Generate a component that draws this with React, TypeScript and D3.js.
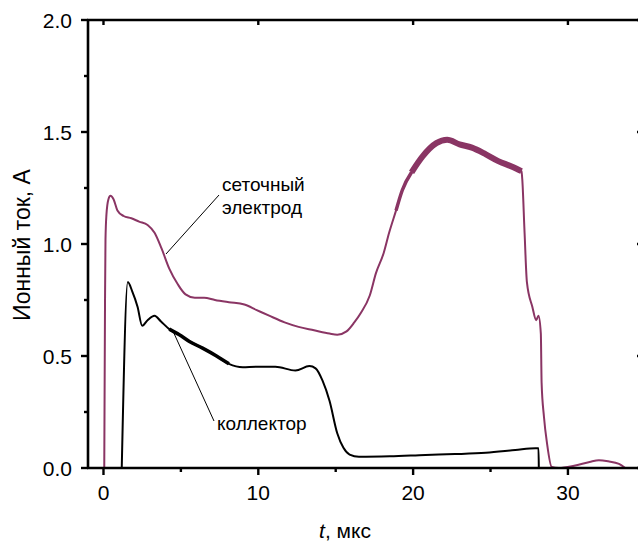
import React from "react";
import * as d3 from "d3";

const W = 638;
const H = 546;

// grid electrode (сеточный электрод)
const gridT = [0.05, 0.1, 0.13, 0.19, 0.32, 0.45, 0.65, 0.9, 1.3, 1.8, 2.3, 2.85, 3.3, 3.75, 4.25, 4.8, 5.3, 5.9, 6.5, 7.2, 8.1, 9.1, 9.9, 10.7, 11.7, 12.6, 13.6, 14.6, 15.1, 15.7, 16.2, 16.6, 17.2, 17.6, 18.1, 18.45, 18.9, 19.3, 19.9, 20.6, 21.5, 22.2, 23.0, 23.8, 24.7, 25.5, 26.4, 27.0, 27.05, 27.2, 27.35, 27.7, 27.95, 28.1, 28.25, 28.3, 28.45, 28.65, 28.95, 29.4, 30.4, 31.4, 32.0, 32.6, 33.3, 33.7];
const gridI = [0, 0.75, 1.02, 1.13, 1.2, 1.215, 1.2, 1.15, 1.125, 1.115, 1.1, 1.085, 1.05, 0.98, 0.89, 0.82, 0.775, 0.76, 0.76, 0.75, 0.74, 0.73, 0.705, 0.68, 0.65, 0.63, 0.615, 0.6, 0.595, 0.61, 0.65, 0.69, 0.77, 0.87, 0.96, 1.05, 1.15, 1.24, 1.32, 1.39, 1.45, 1.465, 1.445, 1.43, 1.4, 1.37, 1.345, 1.325, 1.29, 1.05, 0.83, 0.72, 0.66, 0.68, 0.6, 0.38, 0.23, 0.11, 0.005, 0, 0.01, 0.027, 0.035, 0.03, 0.018, 0];

// collector (коллектор)
const collT = [1.18, 1.57, 1.85, 2.2, 2.5, 2.85, 3.3, 3.7, 4.25, 4.9, 5.55, 6.4, 7.3, 8.1, 9.0, 9.85, 11.1, 12.4, 13.3, 13.7, 14.15, 14.6, 15.1, 15.5, 15.9, 16.5, 18.5, 20.8, 22.7, 24.7, 26.6, 27.9, 28.1, 28.12];
const collI = [0, 0.83, 0.79, 0.72, 0.635, 0.66, 0.68, 0.655, 0.62, 0.595, 0.565, 0.535, 0.5, 0.465, 0.45, 0.452, 0.452, 0.435, 0.455, 0.445, 0.39, 0.3, 0.155, 0.09, 0.06, 0.05, 0.052, 0.058, 0.062, 0.068, 0.08, 0.088, 0.088, 0];

const xMajor = [0, 10, 20, 30];
const xMinor = [5, 15, 25];
const yMajor = [0, 0.5, 1.0, 1.5, 2.0];
const yMinor = [0.25, 0.75, 1.25, 1.75];

const PURPLE = "#8a3564";

export default function App() {
  const x = d3.scaleLinear().domain([-1, 34.72]).range([88, 641]);
  const y = d3.scaleLinear().domain([0, 2]).range([468, 20]);

  const line = d3
    .line<[number, number]>()
    .x((d) => x(d[0]))
    .y((d) => y(d[1]))
    .curve(d3.curveMonotoneX);

  const grid: [number, number][] = gridT.map((t, i) => [t, gridI[i]]);
  const coll: [number, number][] = collT.map((t, i) => [t, collI[i]]);
  const gridRipple1 = grid.filter((d) => d[0] >= 18.8 && d[0] <= 19.9);
  const gridRipple2 = grid.filter((d) => d[0] >= 19.9 && d[0] <= 27.0);
  const collRipple = coll.filter((d) => d[0] >= 4.25 && d[0] <= 8.1);

  const font = "'Liberation Sans', Arial, sans-serif";
  const x0 = x.range()[0];
  const x1 = x.range()[1];
  const y0 = y.range()[0];
  const y1 = y.range()[1];

  return (
    <svg
      width={W}
      height={H}
      style={{ position: "absolute", left: 0, top: 0, background: "#fff" }}
      fontFamily={font}
    >
      {/* curves */}
      <path d={line(grid) || ""} fill="none" stroke={PURPLE} strokeWidth={2} strokeLinejoin="round" />
      <path d={line(gridRipple1) || ""} fill="none" stroke={PURPLE} strokeWidth={3.5} strokeLinejoin="round" />
      <path d={line(gridRipple2) || ""} fill="none" stroke={PURPLE} strokeWidth={6} strokeLinejoin="round" />
      <path d={line(coll) || ""} fill="none" stroke="#000" strokeWidth={2} strokeLinejoin="round" />
      <path d={line(collRipple) || ""} fill="none" stroke="#000" strokeWidth={3.5} strokeLinejoin="round" />

      {/* frame */}
      <line x1={x0} x2={x0} y1={y1 - 1} y2={y0 + 1} stroke="#000" strokeWidth={2.6} />
      <line x1={x0 - 1} x2={W} y1={y0} y2={y0} stroke="#000" strokeWidth={2.6} />
      <line x1={x0 - 1} x2={W} y1={y1} y2={y1} stroke="#000" strokeWidth={2.6} />
      <line x1={x1} x2={x1} y1={y1} y2={y0} stroke="#000" strokeWidth={2.6} />

      {/* x ticks */}
      {xMajor.map((t) => (
        <g key={"xm" + t}>
          <line x1={x(t)} x2={x(t)} y1={y0} y2={y0 + 7} stroke="#000" strokeWidth={2.4} />
          <line x1={x(t)} x2={x(t)} y1={y1} y2={y1 + 5} stroke="#000" strokeWidth={2.4} />
          <text x={x(t)} y={500} textAnchor="middle" fontSize={21}>
            {t}
          </text>
        </g>
      ))}
      {xMinor.map((t) => (
        <line key={"xn" + t} x1={x(t)} x2={x(t)} y1={y0} y2={y0 + 4} stroke="#000" strokeWidth={2.4} />
      ))}

      {/* y ticks */}
      {yMajor.map((v) => (
        <g key={"ym" + v}>
          <line x1={x0} x2={x0 - 7} y1={y(v)} y2={y(v)} stroke="#000" strokeWidth={2.4} />
          <line x1={x1} x2={x1 - 4} y1={y(v)} y2={y(v)} stroke="#000" strokeWidth={2.4} />
          <text x={72} y={y(v) + 7.5} textAnchor="end" fontSize={21}>
            {v.toFixed(1)}
          </text>
        </g>
      ))}
      {yMinor.map((v) => (
        <line key={"yn" + v} x1={x0} x2={x0 - 4} y1={y(v)} y2={y(v)} stroke="#000" strokeWidth={2.4} />
      ))}

      {/* axis titles */}
      <text x={345} y={538} textAnchor="middle" fontSize={21}>
        <tspan fontStyle="italic">t</tspan>, мкс
      </text>
      <text
        transform={`translate(30, 245) rotate(-90)`}
        textAnchor="middle"
        fontSize={23}
      >
        Ионный ток, А
      </text>

      {/* annotations */}
      <text x={222} y={191} fontSize={19}>сеточный</text>
      <text x={222} y={214} fontSize={19}>электрод</text>
      <line x1={219} y1={195} x2={166} y2={254} stroke="#000" strokeWidth={1} />

      <text x={217} y={430} fontSize={19}>коллектор</text>
      <line x1={172} y1={329} x2={214} y2={421} stroke="#000" strokeWidth={1} />
    </svg>
  );
}
